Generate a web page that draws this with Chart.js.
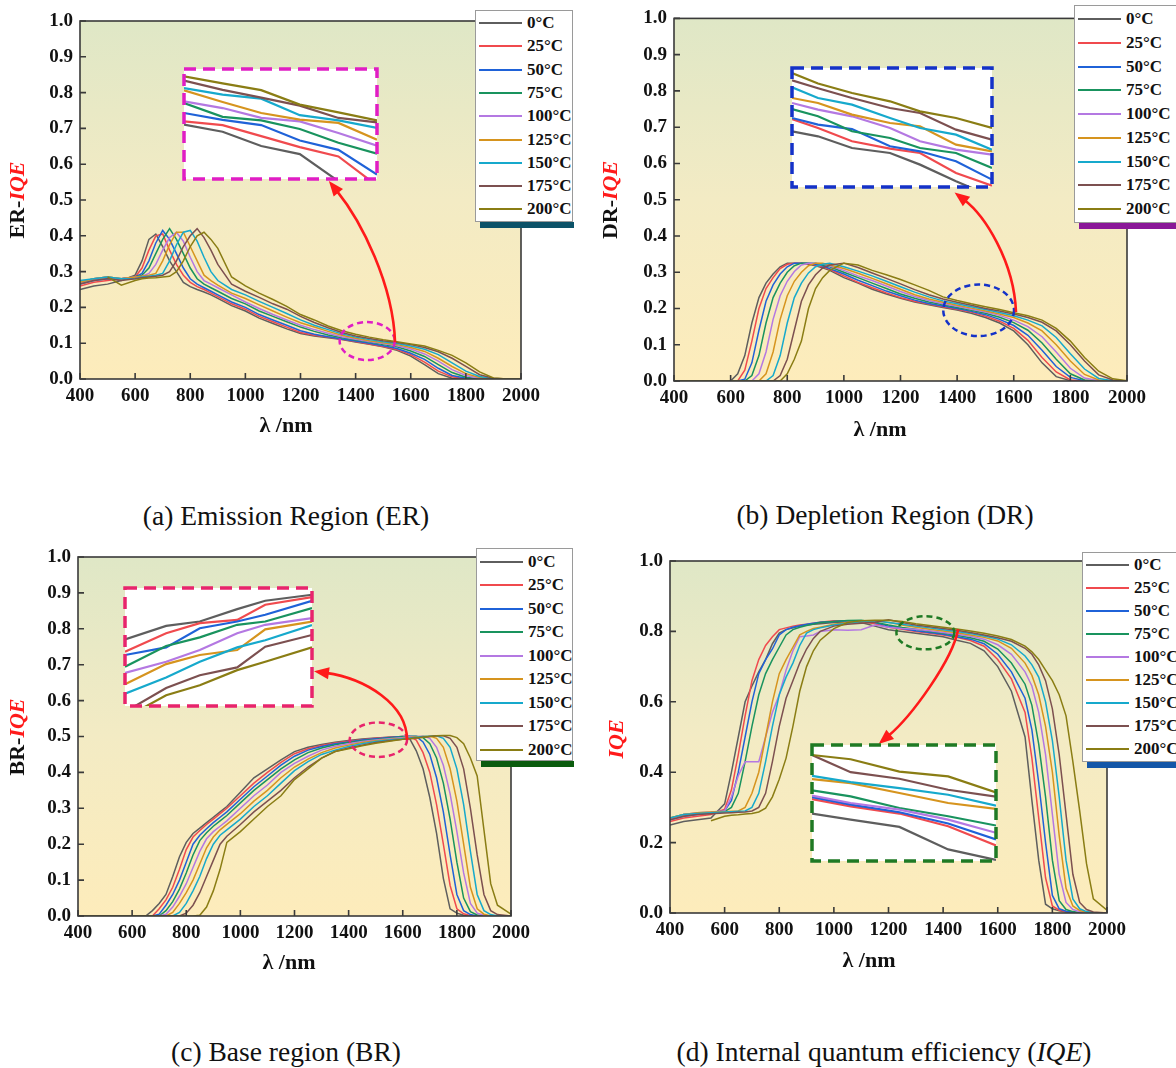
<!DOCTYPE html>
<html>
<head>
<meta charset="utf-8">
<title>IQE vs temperature</title>
<script src="https://cdn.jsdelivr.net/npm/chart.js@4.4.1/dist/chart.umd.min.js"></script>
<style>
  html, body { margin: 0; padding: 0; background: #fff; }
  #page { position: relative; width: 1176px; height: 1068px; overflow: hidden;
          font-family: "Liberation Serif", "Times New Roman", serif; color: #111; }
  .panel { position: absolute; width: 588px; height: 470px; }
  .panel canvas { position: absolute; left: 0; top: 0; }
  .legend { position: absolute; background: #fff; border: 1px solid #9a9a9a; box-sizing: border-box;
            font-weight: bold; font-size: 17px; }
  .legend .row { position: absolute; left: 0; height: 23px; display: flex; align-items: center; white-space: nowrap; }
  .legend .swatch { display: inline-block; width: 43px; height: 0; border-top: 2px solid; margin: 0 5px 0 3px; }
  .legend-shadow { position: absolute; height: 6px; }
  .caption { position: absolute; font-size: 27.5px; line-height: 28px; white-space: nowrap; transform: translateX(-50%); }
</style>
</head>
<body>
<div id="page"></div>
<script>
const FONT = '"Liberation Serif", "Times New Roman", serif';

const TEMPS = ['0°C', '25°C', '50°C', '75°C', '100°C', '125°C', '150°C', '175°C', '200°C'];
const SERIES_COLORS = ['#5e5e5e', '#f04a4e', '#1f62d8', '#19935e', '#b478e2', '#d6941e', '#16a9cc', '#7c5050', '#8a7d14'];

// ---- (a) emission region ----
const ER_X = [400,450,500,550,600,625,650,675,700,725,750,775,800,825,850,875,900,950,1000,1050,1100,1150,1200,1250,1300,1350,1400,1450,1500,1550,1600,1650,1700,1750,1800,1850,1900,1950,2000];
const ER_0C   = [.25,.26,.265,.275,.29,.33,.39,.405,.37,.33,.30,.27,.258,.25,.243,.235,.225,.205,.19,.17,.155,.14,.127,.12,.115,.11,.103,.097,.09,.08,.064,.04,.015,.002,0,0,0,0,0];
const ER_25C  = [.26,.27,.275,.28,.285,.31,.36,.40,.405,.36,.32,.29,.27,.258,.25,.24,.23,.21,.195,.175,.16,.145,.13,.122,.117,.111,.105,.098,.091,.082,.068,.047,.022,.006,0,0,0,0,0];
const ER_50C  = [.265,.275,.28,.28,.285,.295,.33,.38,.415,.39,.35,.31,.28,.265,.255,.245,.235,.215,.20,.18,.165,.15,.135,.125,.118,.112,.106,.10,.093,.085,.072,.055,.03,.01,.002,0,0,0,0];
const ER_75C  = [.27,.28,.285,.28,.285,.29,.31,.35,.39,.42,.39,.35,.31,.28,.265,.255,.245,.225,.21,.19,.175,.16,.145,.133,.123,.115,.109,.103,.096,.09,.078,.063,.04,.018,.005,0,0,0,0];
const ER_100C = [.27,.28,.285,.28,.285,.287,.295,.32,.36,.395,.41,.385,.34,.30,.275,.265,.255,.235,.215,.197,.18,.165,.15,.138,.128,.118,.111,.105,.099,.093,.084,.07,.05,.026,.01,.002,0,0,0];
const ER_125C = [.27,.28,.285,.28,.285,.287,.29,.295,.33,.375,.41,.41,.37,.33,.29,.275,.262,.24,.225,.207,.19,.173,.157,.145,.133,.122,.114,.107,.101,.096,.088,.077,.058,.035,.015,.004,0,0,0];
const ER_150C = [.275,.28,.285,.28,.28,.285,.287,.29,.295,.33,.375,.41,.415,.385,.34,.30,.275,.25,.235,.217,.20,.183,.165,.15,.138,.126,.117,.11,.104,.099,.092,.083,.068,.045,.022,.007,.001,0,0];
const ER_175C = [.265,.275,.28,.275,.28,.283,.285,.287,.29,.30,.33,.37,.40,.42,.395,.36,.32,.265,.245,.228,.21,.195,.175,.158,.143,.13,.12,.113,.107,.102,.096,.088,.076,.058,.035,.012,.002,0,0];
const ER_200C = [null,null,.285,.262,.275,.28,.282,.283,.285,.287,.30,.33,.37,.40,.41,.39,.365,.285,.26,.24,.222,.203,.18,.165,.148,.135,.125,.117,.11,.104,.098,.092,.08,.066,.045,.02,.003,0,0];

const ER_INSET_X = [0, 0.2, 0.4, 0.6, 0.8, 1];
const ER_INSET = [
  [.494,.43,.30,.226,-.02,-.27],
  [.524,.49,.39,.29,.205,-.06],
  [.60,.538,.49,.35,.265,.04],
  [.69,.565,.533,.455,.33,.23],
  [.706,.645,.556,.524,.418,.303],
  [.806,.70,.60,.54,.51,.358],
  [.827,.767,.73,.58,.533,.464],
  [.894,.81,.74,.667,.555,.515],
  [.933,.87,.808,.676,.605,.533]
];

// ---- (b) depletion region ----
const DR_X = [400,500,600,625,650,675,700,725,750,775,800,825,850,875,900,925,950,1000,1050,1100,1150,1200,1250,1300,1350,1400,1450,1500,1550,1600,1650,1700,1750,1800,1850,1900,1950,2000];
const DR_0C   = [0,0,0,.02,.07,.16,.23,.27,.295,.315,.325,.325,.325,.322,.318,.312,.305,.285,.27,.253,.24,.228,.218,.21,.203,.196,.187,.175,.16,.138,.10,.05,.012,.001,0,0,0,0];
const DR_25C  = [0,0,0,0,.03,.11,.20,.255,.285,.31,.322,.325,.325,.324,.32,.315,.308,.29,.272,.257,.243,.23,.22,.212,.205,.198,.19,.179,.165,.145,.112,.065,.025,.003,0,0,0,0];
const DR_50C  = [0,0,0,0,.005,.05,.14,.22,.265,.295,.315,.325,.325,.325,.322,.318,.31,.295,.278,.263,.248,.235,.223,.214,.207,.20,.192,.183,.17,.153,.126,.085,.04,.01,.001,0,0,0];
const DR_75C  = [0,0,0,0,0,.015,.07,.16,.23,.27,.30,.318,.325,.325,.325,.32,.315,.30,.285,.27,.255,.24,.228,.218,.21,.203,.195,.187,.176,.161,.14,.105,.06,.02,.003,0,0,0];
const DR_100C = [0,0,0,0,0,0,.02,.08,.17,.235,.275,.302,.32,.325,.325,.323,.317,.305,.29,.277,.262,.247,.233,.222,.213,.206,.198,.19,.181,.168,.15,.122,.08,.035,.008,.001,0,0];
const DR_125C = [0,0,0,0,0,0,0,.02,.08,.17,.235,.275,.30,.318,.325,.325,.32,.31,.297,.283,.268,.253,.238,.226,.217,.209,.201,.193,.185,.175,.16,.138,.10,.055,.018,.003,0,0];
const DR_150C = [0,0,0,0,0,0,0,0,.015,.07,.16,.23,.27,.298,.315,.322,.325,.315,.303,.29,.275,.26,.245,.232,.221,.213,.205,.197,.189,.18,.168,.152,.12,.075,.033,.007,.001,0];
const DR_175C = [0,0,0,0,0,0,0,0,0,.015,.06,.14,.22,.265,.293,.312,.32,.325,.313,.298,.283,.268,.252,.238,.226,.217,.209,.20,.193,.185,.175,.162,.138,.10,.055,.017,.003,0];
const DR_200C = [0,0,0,0,0,0,0,0,0,0,.02,.06,.11,.20,.255,.285,.305,.325,.32,.305,.293,.28,.265,.25,.232,.222,.213,.205,.197,.188,.18,.168,.145,.11,.065,.027,.006,.001];

const DR_INSET_X = [0, 0.13, 0.3, 0.49, 0.64, 0.82, 1];
const DR_INSET = [
  [.468,.426,.328,.286,.188,.048,-.08],
  [.571,.496,.384,.322,.286,.118,.011],
  [.58,.524,.487,.342,.30,.216,.062],
  [.655,.594,.468,.412,.328,.286,.16],
  [.706,.65,.594,.496,.384,.314,.272],
  [.748,.706,.608,.538,.51,.356,.30],
  [.838,.748,.692,.58,.496,.44,.314],
  [.896,.83,.748,.664,.622,.482,.398],
  [.958,.87,.79,.72,.636,.58,.496]
];

// ---- (c) base region ----
const BR_X = [400,600,650,675,700,725,750,775,800,825,850,875,900,925,950,1000,1050,1100,1150,1200,1250,1300,1350,1400,1450,1500,1550,1600,1625,1650,1675,1700,1725,1750,1775,1800,1825,1850,1875,1900,1925,1950,2000];
const BR_0C   = [0,0,0,.015,.035,.06,.11,.165,.205,.23,.245,.26,.275,.29,.305,.345,.385,.41,.435,.458,.47,.478,.484,.489,.493,.496,.498,.50,.495,.46,.41,.33,.23,.105,.02,.008,.002,0,0,0,0,0,0];
const BR_25C  = [0,0,0,0,.02,.045,.08,.13,.185,.22,.238,.255,.27,.285,.30,.335,.37,.40,.428,.452,.466,.475,.482,.487,.491,.495,.498,.50,.50,.49,.455,.40,.31,.20,.085,.02,.006,.001,0,0,0,0,0];
const BR_50C  = [0,0,0,0,.005,.03,.06,.10,.15,.20,.225,.243,.26,.275,.29,.325,.36,.39,.42,.445,.462,.472,.48,.485,.49,.494,.497,.50,.501,.50,.485,.45,.385,.29,.17,.06,.015,.004,0,0,0,0,0];
const BR_75C  = [0,0,0,0,0,.015,.04,.075,.12,.17,.21,.232,.25,.265,.28,.315,.35,.38,.41,.435,.455,.468,.477,.483,.488,.492,.496,.499,.50,.501,.497,.48,.44,.37,.27,.15,.05,.012,.003,0,0,0,0];
const BR_100C = [0,0,0,0,0,.005,.025,.055,.09,.135,.18,.215,.235,.25,.265,.30,.335,.365,.40,.425,.445,.462,.473,.48,.486,.49,.494,.497,.499,.50,.501,.495,.47,.42,.34,.235,.12,.035,.008,.002,0,0,0];
const BR_125C = [0,0,0,0,0,0,.01,.035,.065,.10,.145,.19,.22,.24,.255,.285,.32,.35,.385,.415,.437,.455,.468,.476,.483,.488,.492,.495,.497,.499,.50,.501,.495,.47,.41,.32,.20,.08,.02,.005,0,0,0];
const BR_150C = [0,0,0,0,0,0,0,.01,.035,.07,.11,.16,.20,.225,.24,.27,.305,.335,.37,.405,.43,.45,.462,.472,.48,.486,.49,.494,.496,.498,.50,.501,.502,.495,.47,.41,.31,.18,.06,.015,.004,0,0];
const BR_175C = [0,0,0,0,0,0,0,0,.008,.03,.065,.11,.155,.20,.222,.255,.29,.32,.35,.385,.415,.44,.458,.468,.476,.483,.488,.492,.494,.496,.498,.50,.502,.502,.495,.47,.41,.30,.17,.06,.015,.004,0];
const BR_200C = [0,0,0,0,0,0,0,0,0,0,.002,.025,.07,.13,.205,.235,.27,.305,.335,.38,.41,.44,.458,.466,.474,.481,.487,.492,.494,.496,.498,.50,.502,.503,.503,.497,.48,.44,.39,.24,.09,.03,.005];

const BR_INSET_X = [0, 0.22, 0.4, 0.6, 0.75, 1];
const BR_INSET = [
  [.565,.679,.716,.821,.892,.943],
  [.46,.616,.702,.73,.858,.923],
  [.432,.497,.659,.716,.773,.892],
  [.332,.509,.582,.688,.716,.83],
  [.281,.375,.474,.616,.688,.744],
  [.185,.355,.432,.474,.65,.716],
  [.105,.241,.375,.497,.557,.685],
  [-.05,.153,.261,.327,.503,.602],
  [-.10,.091,.176,.304,.375,.497]
];

// ---- (d) total internal quantum efficiency ----
const IQE_X = [400,450,500,550,600,625,650,675,700,725,750,775,800,825,850,875,900,925,950,1000,1050,1100,1150,1200,1250,1300,1350,1400,1450,1500,1550,1600,1650,1700,1725,1750,1775,1800,1825,1850,1875,1900,1925,1950,2000];
const IQE_0C   = [.25,.26,.265,.27,.31,.40,.50,.60,.645,.685,.72,.765,.795,.805,.81,.815,.818,.82,.822,.825,.826,.825,.815,.805,.80,.795,.79,.785,.775,.766,.745,.70,.63,.50,.32,.15,.025,.012,.006,.003,.001,0,0,0,0];
const IQE_25C  = [.26,.27,.275,.28,.295,.35,.45,.56,.66,.72,.76,.785,.805,.81,.815,.818,.82,.823,.826,.83,.83,.828,.822,.812,.806,.80,.795,.79,.783,.774,.758,.72,.665,.57,.44,.27,.10,.02,.008,.004,.001,0,0,0,0];
const IQE_50C  = [.265,.275,.28,.285,.29,.32,.40,.50,.60,.68,.72,.75,.79,.805,.812,.816,.82,.823,.826,.828,.83,.83,.825,.815,.808,.802,.797,.792,.785,.778,.765,.735,.685,.61,.52,.37,.20,.05,.012,.005,.002,0,0,0,0];
const IQE_75C  = [.27,.28,.283,.285,.288,.30,.34,.43,.53,.62,.68,.72,.755,.79,.805,.812,.817,.821,.825,.828,.831,.832,.826,.818,.811,.806,.80,.795,.789,.782,.772,.75,.71,.65,.59,.48,.33,.15,.035,.01,.004,.001,0,0,0];
const IQE_100C = [.265,.28,.285,.287,.29,.33,.39,.43,.43,.43,.50,.57,.62,.69,.745,.785,.787,.79,.80,.805,.803,.805,.818,.812,.808,.806,.802,.797,.792,.786,.778,.762,.735,.685,.645,.57,.45,.28,.11,.03,.01,.004,.001,0,0];
const IQE_125C = [.27,.28,.285,.287,.288,.289,.29,.30,.34,.40,.50,.60,.68,.72,.755,.79,.80,.808,.812,.82,.825,.828,.83,.826,.818,.812,.806,.801,.796,.79,.783,.773,.752,.71,.675,.62,.53,.40,.22,.07,.02,.007,.002,0,0];
const IQE_150C = [.27,.28,.283,.285,.287,.288,.289,.29,.30,.34,.43,.53,.62,.67,.71,.76,.795,.805,.81,.818,.823,.828,.83,.825,.82,.815,.81,.805,.80,.794,.787,.778,.762,.73,.705,.67,.60,.49,.33,.15,.04,.012,.004,.001,0];
const IQE_175C = [.265,.275,.28,.282,.284,.285,.286,.287,.29,.30,.34,.43,.53,.61,.66,.71,.75,.78,.80,.815,.82,.823,.826,.833,.825,.818,.813,.808,.803,.797,.79,.782,.772,.752,.735,.705,.66,.58,.45,.28,.11,.03,.01,.003,0];
const IQE_200C = [null,null,null,.262,.275,.278,.279,.281,.283,.287,.298,.33,.38,.44,.53,.63,.70,.745,.775,.808,.825,.83,.832,.832,.828,.822,.817,.812,.807,.801,.795,.787,.777,.758,.742,.72,.69,.66,.62,.56,.43,.29,.14,.04,.008];

const IQE_INSET_X = [0, 0.21, 0.475, 0.74, 1];
const IQE_INSET = [
  [.409,.357,.294,.10,.009],
  [.534,.471,.409,.30,.134],
  [.551,.486,.42,.323,.186],
  [.609,.557,.457,.386,.306],
  [.563,.50,.443,.357,.243],
  [.706,.671,.586,.50,.449],
  [.734,.68,.629,.571,.477],
  [.914,.766,.709,.614,.554],
  [.914,.877,.771,.729,.591]
];

// panel layout: plot box in canvas px, callouts in data units
const PANELS = [
  {
    left: 0, top: 0, x: ER_X,
    series: [ER_0C, ER_25C, ER_50C, ER_75C, ER_100C, ER_125C, ER_150C, ER_175C, ER_200C],
    yStep: 0.1, area: { left: 80, top: 21, right: 521, bottom: 379 },
    yTitle: { prefix: 'ER-', x: 18, y: 200 }, xTitle: { x: 286, y: 426 },
    accent: '#e01ec4',
    inset: { x0: 777, x1: 1478, y0: 0.558, y1: 0.866, x: ER_INSET_X, series: ER_INSET },
    ring: { cx: 1442, cy: 0.106, rx: 100, ry: 0.053 },
    arrow: [[1543, 0.103], [1536, 0.263], [1423, 0.439], [1303, 0.553]],
    legend: { left: 475, top: 10, width: 98, height: 212, first: 13, pitch: 23.3, shadow: '#0c5268' },
    caption: { html: '(a) Emission Region (ER)', x: 286, y: 516 }
  },
  {
    left: 588, top: 0, x: DR_X,
    series: [DR_0C, DR_25C, DR_50C, DR_75C, DR_100C, DR_125C, DR_150C, DR_175C, DR_200C],
    yStep: 0.1, area: { left: 86, top: 17, right: 539, bottom: 381 },
    yTitle: { prefix: 'DR-', x: 23, y: 200 }, xTitle: { x: 292, y: 430 },
    accent: '#1432c8',
    inset: { x0: 816, x1: 1522, y0: 0.536, y1: 0.863, x: DR_INSET_X, series: DR_INSET },
    ring: { cx: 1476, cy: 0.195, rx: 125, ry: 0.071 },
    arrow: [[1608, 0.19], [1601, 0.33], [1498, 0.456], [1391, 0.52]],
    legend: { left: 1074, top: 5, width: 112, height: 218, first: 14, pitch: 23.75, shadow: '#8a1898' },
    caption: { html: '(b) Depletion Region (DR)', x: 885, y: 515 }
  },
  {
    left: 0, top: 537, x: BR_X,
    series: [BR_0C, BR_25C, BR_50C, BR_75C, BR_100C, BR_125C, BR_150C, BR_175C, BR_200C],
    yStep: 0.1, area: { left: 78, top: 20, right: 511, bottom: 379 },
    yTitle: { prefix: 'BR-', x: 18, y: 200 }, xTitle: { x: 289, y: 426 },
    accent: '#e8246c',
    inset: { x0: 575, x1: 1266, y0: 0.586, y1: 0.914, x: BR_INSET_X, series: BR_INSET },
    ring: { cx: 1510, cy: 0.491, rx: 106, ry: 0.048 },
    arrow: [[1616, 0.49], [1616, 0.591], [1460, 0.662], [1272, 0.682]],
    legend: { left: 476, top: 548, width: 97, height: 213, first: 14, pitch: 23.45, shadow: '#0b5c0e' },
    caption: { html: '(c) Base region (BR)', x: 286, y: 1052 }
  },
  {
    left: 588, top: 537, x: IQE_X,
    series: [IQE_0C, IQE_25C, IQE_50C, IQE_75C, IQE_100C, IQE_125C, IQE_150C, IQE_175C, IQE_200C],
    yStep: 0.2, area: { left: 82, top: 24, right: 519, bottom: 376 },
    yTitle: { prefix: '', x: 29, y: 202 }, xTitle: { x: 281, y: 424 },
    accent: '#1f7a24',
    inset: { x0: 919, x1: 1594, y0: 0.147, y1: 0.477, x: IQE_INSET_X, series: IQE_INSET },
    ring: { cx: 1335, cy: 0.796, rx: 106, ry: 0.047 },
    arrow: [[1455, 0.806], [1435, 0.719], [1284, 0.558], [1164, 0.48]],
    legend: { left: 1082, top: 552, width: 112, height: 210, first: 13, pitch: 23, shadow: '#1457a8' },
    caption: { html: '(d) Internal quantum efficiency (<i>IQE</i>)', x: 884, y: 1052 }
  }
];

function toPx(chart, x, y) {
  return [chart.scales.x.getPixelForValue(x), chart.scales.y.getPixelForValue(y)];
}

// background, frame, inward ticks, callout ring + arrow, axis titles
function makeDecor(p) {
  return {
    id: 'decor',
    beforeDatasetsDraw(chart) {
      const { ctx, chartArea: a } = chart;
      const g = ctx.createLinearGradient(0, a.top, 0, a.bottom);
      g.addColorStop(0, '#dfe7c6');
      g.addColorStop(0.5, '#f3ebc4');
      g.addColorStop(1, '#fdecbb');
      ctx.save();
      ctx.fillStyle = g;
      ctx.fillRect(a.left, a.top, a.right - a.left, a.bottom - a.top);
      ctx.restore();
    },
    afterDatasetsDraw(chart) {
      const { ctx, chartArea: a, scales } = chart;
      ctx.save();

      ctx.strokeStyle = '#3a3a3a';
      ctx.lineWidth = 1.6;
      ctx.strokeRect(a.left, a.top, a.right - a.left, a.bottom - a.top);
      ctx.beginPath();
      scales.x.ticks.forEach(t => {
        const x = scales.x.getPixelForValue(t.value);
        ctx.moveTo(x, a.bottom);
        ctx.lineTo(x, a.bottom - 6);
      });
      scales.y.ticks.forEach(t => {
        const y = scales.y.getPixelForValue(t.value);
        ctx.moveTo(a.left, y);
        ctx.lineTo(a.left + 6, y);
      });
      ctx.stroke();

      // dashed ring around the zoomed region
      const [cx, cy] = toPx(chart, p.ring.cx, p.ring.cy);
      const rx = Math.abs(scales.x.getPixelForValue(p.ring.cx + p.ring.rx) - cx);
      const ry = Math.abs(scales.y.getPixelForValue(p.ring.cy + p.ring.ry) - cy);
      ctx.setLineDash([6, 4]);
      ctx.lineWidth = 2.5;
      ctx.strokeStyle = p.accent;
      ctx.beginPath();
      ctx.ellipse(cx, cy, rx, ry, 0, 0, Math.PI * 2);
      ctx.stroke();
      ctx.setLineDash([]);

      // curved red arrow to the inset
      const [p0, p1, p2, p3] = p.arrow.map(q => toPx(chart, q[0], q[1]));
      let dx = p3[0] - p2[0], dy = p3[1] - p2[1];
      const len = Math.hypot(dx, dy);
      dx /= len; dy /= len;
      const hl = 15, hw = 6;
      const bx = p3[0] - dx * hl, by = p3[1] - dy * hl;
      ctx.strokeStyle = '#ff1a1a';
      ctx.fillStyle = '#ff1a1a';
      ctx.lineWidth = 2.6;
      ctx.beginPath();
      ctx.moveTo(p0[0], p0[1]);
      ctx.bezierCurveTo(p1[0], p1[1], p2[0], p2[1], bx + dx * 3, by + dy * 3);
      ctx.stroke();
      ctx.beginPath();
      ctx.moveTo(p3[0], p3[1]);
      ctx.lineTo(bx - dy * hw, by + dx * hw);
      ctx.lineTo(bx + dy * hw, by - dx * hw);
      ctx.closePath();
      ctx.fill();

      // axis titles
      ctx.fillStyle = '#111';
      ctx.textBaseline = 'middle';
      ctx.textAlign = 'center';
      ctx.font = 'bold 22px ' + FONT;
      ctx.fillText('λ /nm', p.xTitle.x, p.xTitle.y);

      ctx.translate(p.yTitle.x, p.yTitle.y);
      ctx.rotate(-Math.PI / 2);
      ctx.textAlign = 'left';
      ctx.font = 'bold 22px ' + FONT;
      const w1 = ctx.measureText(p.yTitle.prefix).width;
      ctx.font = 'italic bold 22px ' + FONT;
      const w2 = ctx.measureText('IQE').width;
      const sx = -(w1 + w2) / 2;
      ctx.font = 'bold 22px ' + FONT;
      ctx.fillStyle = '#111';
      ctx.fillText(p.yTitle.prefix, sx, 0);
      ctx.font = 'italic bold 22px ' + FONT;
      ctx.fillStyle = '#ff1a1a';
      ctx.fillText('IQE', sx + w1, 0);

      ctx.restore();
    }
  };
}

function makeInsetFrame(color) {
  return {
    id: 'insetFrame',
    beforeDatasetsDraw(chart) {
      const { ctx, chartArea: a } = chart;
      ctx.save();
      ctx.fillStyle = '#fff';
      ctx.fillRect(a.left, a.top, a.right - a.left, a.bottom - a.top);
      ctx.restore();
    },
    afterDatasetsDraw(chart) {
      const { ctx, chartArea: a } = chart;
      ctx.save();
      ctx.strokeStyle = color;
      ctx.lineWidth = 3.5;
      ctx.setLineDash([12, 7]);
      ctx.strokeRect(a.left, a.top, a.right - a.left, a.bottom - a.top);
      ctx.restore();
    }
  };
}

function lineDatasets(xs, series, width) {
  return series.map((ys, i) => ({
    label: TEMPS[i],
    data: xs.map((x, j) => ({ x: x, y: ys[j] })),
    borderColor: SERIES_COLORS[i],
    borderWidth: width,
    pointRadius: 0,
    fill: false,
    tension: 0,
    order: series.length - 1 - i
  }));
}

const page = document.getElementById('page');
const tickFont = { family: FONT, size: 19, weight: 'bold' };

PANELS.forEach(p => {
  const panel = document.createElement('div');
  panel.className = 'panel';
  panel.style.left = p.left + 'px';
  panel.style.top = p.top + 'px';
  page.appendChild(panel);

  const cv = document.createElement('canvas');
  cv.width = 588;
  cv.height = 470;
  panel.appendChild(cv);

  const chart = new Chart(cv.getContext('2d'), {
    type: 'line',
    data: { datasets: lineDatasets(p.x, p.series, 1.5) },
    options: {
      responsive: false,
      animation: false,
      events: [],
      layout: { padding: { left: 0, top: p.area.top, right: 588 - p.area.right, bottom: 0 } },
      plugins: { legend: { display: false }, tooltip: { enabled: false } },
      scales: {
        x: {
          type: 'linear', min: 400, max: 2000,
          grid: { display: false, drawTicks: false },
          border: { display: false },
          ticks: { stepSize: 200, autoSkip: false, maxRotation: 0, padding: 6, color: '#111',
                   font: tickFont, callback: v => String(v) },
          afterFit: s => { s.height = 470 - p.area.bottom; }
        },
        y: {
          min: 0, max: 1,
          grid: { display: false, drawTicks: false },
          border: { display: false },
          ticks: { stepSize: p.yStep, padding: 7, color: '#111', font: tickFont,
                   callback: v => v.toFixed(1) },
          afterFit: s => { s.width = p.area.left; }
        }
      }
    },
    plugins: [makeDecor(p)]
  });

  // zoomed inset placed over the main plot
  const m = 3;
  const l = chart.scales.x.getPixelForValue(p.inset.x0);
  const r = chart.scales.x.getPixelForValue(p.inset.x1);
  const t = chart.scales.y.getPixelForValue(p.inset.y1);
  const b = chart.scales.y.getPixelForValue(p.inset.y0);
  const ic = document.createElement('canvas');
  ic.width = Math.round(r - l + 2 * m);
  ic.height = Math.round(b - t + 2 * m);
  panel.appendChild(ic);
  new Chart(ic.getContext('2d'), {
    type: 'line',
    data: { datasets: lineDatasets(p.inset.x, p.inset.series, 2.2) },
    options: {
      responsive: false,
      animation: false,
      events: [],
      layout: { padding: m },
      plugins: { legend: { display: false }, tooltip: { enabled: false } },
      scales: {
        x: { type: 'linear', min: 0, max: 1, display: false },
        y: { min: 0, max: 1, display: false }
      }
    },
    plugins: [makeInsetFrame(p.accent)]
  });
  ic.style.position = 'absolute';
  ic.style.left = Math.round(l - m) + 'px';
  ic.style.top = Math.round(t - m) + 'px';

  // legend with offset colour bar underneath
  const sh = document.createElement('div');
  sh.className = 'legend-shadow';
  Object.assign(sh.style, {
    left: (p.legend.left + 5) + 'px', top: (p.legend.top + p.legend.height) + 'px',
    width: (p.legend.width - 4) + 'px', background: p.legend.shadow
  });
  page.appendChild(sh);

  const lg = document.createElement('div');
  lg.className = 'legend';
  Object.assign(lg.style, {
    left: p.legend.left + 'px', top: p.legend.top + 'px',
    width: p.legend.width + 'px', height: p.legend.height + 'px'
  });
  TEMPS.forEach((name, i) => {
    const row = document.createElement('div');
    row.className = 'row';
    row.style.top = (p.legend.first + i * p.legend.pitch - 12.5) + 'px';
    const sw = document.createElement('span');
    sw.className = 'swatch';
    sw.style.borderTopColor = SERIES_COLORS[i];
    const tx = document.createElement('span');
    tx.textContent = name;
    row.appendChild(sw);
    row.appendChild(tx);
    lg.appendChild(row);
  });
  page.appendChild(lg);

  const cap = document.createElement('div');
  cap.className = 'caption';
  cap.innerHTML = p.caption.html;
  cap.style.left = p.caption.x + 'px';
  cap.style.top = (p.caption.y - 14) + 'px';
  page.appendChild(cap);
});
</script>
</body>
</html>
